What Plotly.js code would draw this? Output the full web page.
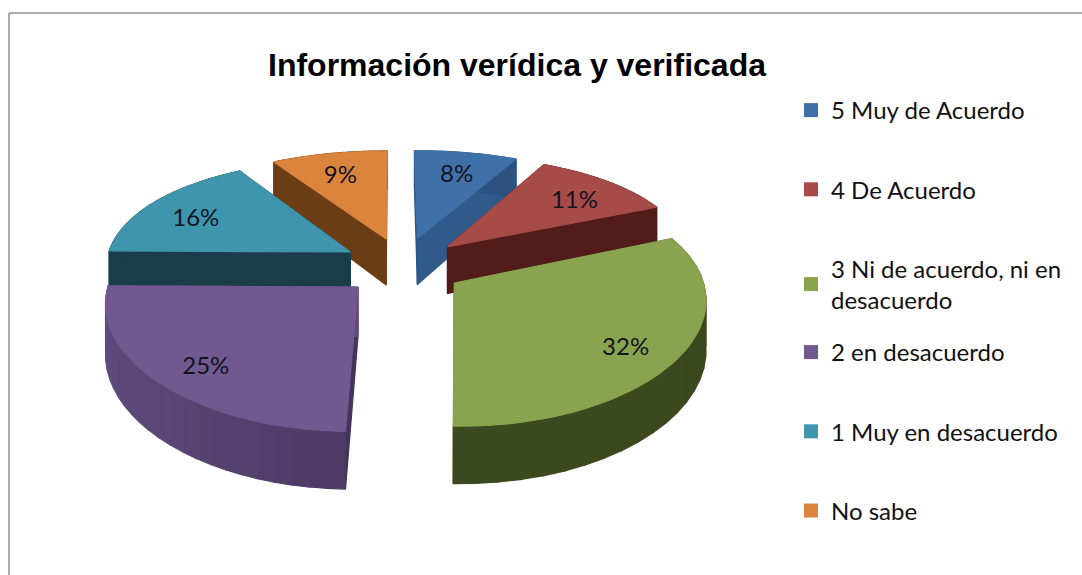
<!DOCTYPE html>
<html>
<head>
<meta charset="utf-8">
<script src="https://cdn.plot.ly/plotly-3.0.1.min.js"></script>
<style>html,body{margin:0;padding:0;background:#fff}</style>
</head>
<body>
<div id="chart" style="width:1082px;height:575px"></div>
<script>
const chartTitle = 'Información verídica y verificada';
const categories = ['5 Muy de Acuerdo', '4 De Acuerdo', '3 Ni de acuerdo, ni en<br>desacuerdo', '2 en desacuerdo', '1 Muy en desacuerdo', 'No sabe'];
const values = [8, 11, 32, 25, 16, 9];
const topColors = ['#3f70a8', '#a64b48', '#89a34f', '#71588f', '#4095ae', '#db843d'];
const wallLeft = ['#305a8a', '#521c1a', '#4b5a27', '#5f4c7c', '#1b3d4b', '#6b3d14'];
const wallRight = ['#2c5280', '#521c1a', '#3c481d', '#46335c', '#1b3d4b', '#6b3d14'];
const drawOrder = [5, 0, 1, 4, 3, 2];

// projection of the tilted disc
const cx = 403, cy = 266, rx = 245, ry = 117.6, persp = 0.17, perspX = 0.12, explode = 0.25, depth = 48,
      labelAt = 0.78, labelDrop = 8, startDeg = -0.3;
const total = values.reduce((a, b) => a + b, 0);
function project(u, v, down) {
  const f = 1 + persp * v;
  return [cx + rx * u * (1 + perspX * v), cy + ry * v * f + (down ? depth * f : 0)];
}
function poly(pts, color) {
  const closed = pts.concat([pts[0]]);
  return {x: closed.map(p => p[0]), y: closed.map(p => p[1]), mode: 'lines', fill: 'toself',
          fillcolor: color, line: {color: color, width: 1.2}, showlegend: false, hoverinfo: 'skip'};
}
function hex(c) { return [1, 3, 5].map(i => parseInt(c.substr(i, 2), 16)); }
function mix(a, b, t) {
  const A = hex(a), B = hex(b);
  return 'rgb(' + A.map((n, i) => Math.round(n + (B[i] - n) * t)).join(',') + ')';
}

let cum = 0;
const start = startDeg * Math.PI / 180;
const slices = values.map(val => {
  const a0 = start + cum / total * 2 * Math.PI; cum += val;
  const a1 = start + cum / total * 2 * Math.PI, mid = (a0 + a1) / 2;
  return {a0, a1, mid, au: explode * Math.sin(mid), av: -explode * Math.cos(mid)};
});

const traces = [];
drawOrder.forEach(i => {
  const s = slices[i], n = 48, rim = [];
  for (let k = 0; k <= n; k++) {
    const a = s.a0 + (s.a1 - s.a0) * k / n;
    rim.push([s.au + Math.sin(a), s.av - Math.cos(a)]);
  }
  const apex = [s.au, s.av];
  const side = ([u, v]) => [project(apex[0], apex[1], false), project(u, v, false), project(u, v, true), project(apex[0], apex[1], true)];
  traces.push(poly(side(rim[0]), wallRight[i]));
  traces.push(poly(side(rim[n]), wallLeft[i]));
  for (let k = 0; k < n; k += 2) {
    const a = rim[k], b = rim[k + 2];
    const xmid = (a[0] + b[0]) / 2;
    const t = Math.min(1, Math.max(0, (xmid + 1.2) / 1.3));
    traces.push(poly([project(a[0], a[1], false), project(b[0], b[1], false), project(b[0], b[1], true), project(a[0], a[1], true)],
      mix(wallLeft[i], wallRight[i], t)));
  }
  const top = [project(apex[0], apex[1], false)].concat(rim.map(p => project(p[0], p[1], false)));
  traces.push(poly(top, topColors[i]));
});

// percentage labels
const labelPts = slices.map(s => project(s.au + labelAt * Math.sin(s.mid), s.av - labelAt * Math.cos(s.mid), false));
traces.push({x: labelPts.map(p => p[0]), y: labelPts.map(p => p[1] + labelDrop), mode: 'text',
  text: values.map(v => v + '%'), textposition: 'middle center',
  textfont: {family: 'Lato, sans-serif', size: 24, color: '#14141e'}, showlegend: false, hoverinfo: 'skip'});

// legend entries: two stacked legends so the wrapped entry keeps the regular row pitch
categories.forEach((name, i) => traces.push({x: [null], y: [null], mode: 'markers', name: name, legendgroup: 'g' + i,
  legend: i < 3 ? 'legend' : 'legend2',
  marker: {symbol: 'square', size: 14, color: topColors[i]}, showlegend: true}));

const legendBase = {xanchor: 'left', yanchor: 'top', tracegroupgap: 45, traceorder: 'grouped',
  bgcolor: 'rgba(0,0,0,0)', font: {family: 'Lato, sans-serif', size: 24, color: '#111'}};

const layout = {
  width: 1082, height: 575, margin: {l: 0, r: 0, t: 0, b: 0},
  paper_bgcolor: '#fff', plot_bgcolor: '#fff', autosize: false,
  title: {text: '<b>' + chartTitle + '</b>', x: 517 / 1082, xanchor: 'center', y: 1 - 65 / 575, yanchor: 'middle',
    font: {family: 'Liberation Sans, Arial, sans-serif', size: 32, color: '#000'}},
  xaxis: {range: [0, 1082], visible: false, fixedrange: true},
  yaxis: {range: [575, 0], visible: false, fixedrange: true},
  legend: Object.assign({x: 791 / 1082, y: 1 - 88 / 575}, legendBase),
  legend2: Object.assign({x: 791 / 1082, y: 1 - 330 / 575}, legendBase),
  shapes: [
    {type: 'line', xref: 'paper', yref: 'paper', x0: 9 / 1082, x1: 9 / 1082, y0: 0, y1: 1 - 13 / 575, line: {color: '#8f8f8f', width: 1.5}},
    {type: 'line', xref: 'paper', yref: 'paper', x0: 9 / 1082, x1: 1, y0: 1 - 13 / 575, y1: 1 - 13 / 575, line: {color: '#8f8f8f', width: 1.5}}
  ]
};
Plotly.newPlot('chart', traces, layout, {displayModeBar: false, staticPlot: true});
</script>
</body>
</html>
